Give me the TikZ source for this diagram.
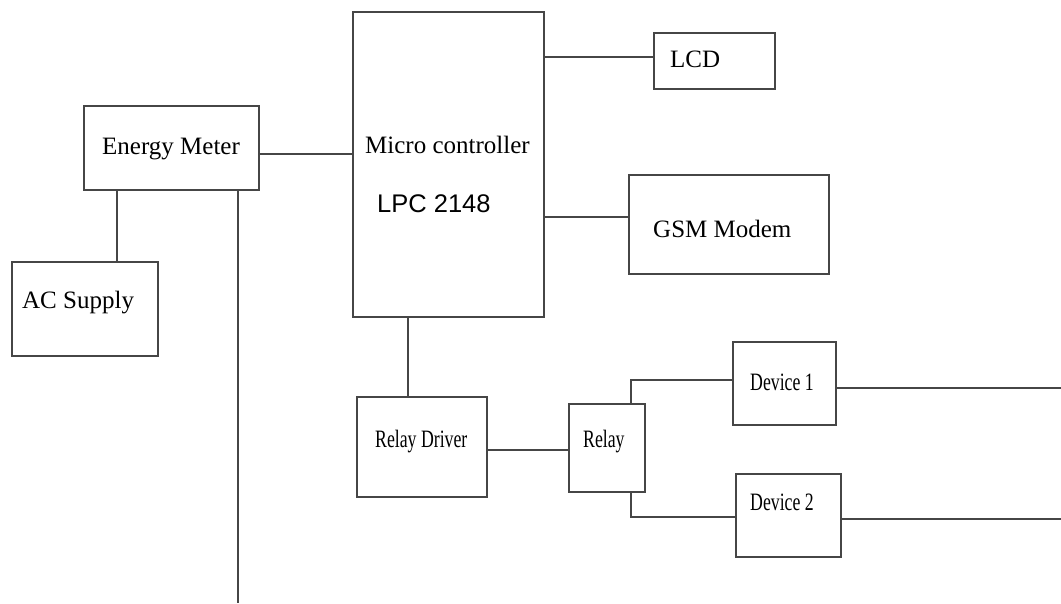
\documentclass[tikz,border=0pt]{standalone}
\usepackage{fontspec}
\usepackage{graphicx}
\setmainfont{Liberation Serif}
\newfontfamily\arialfont{Liberation Sans}
\definecolor{linegray}{RGB}{70,70,70}
\tikzset{
  blk/.style={draw=linegray, line width=1.6pt, rectangle, inner sep=0pt, fill=none},
  txt/.style={anchor=base west, inner sep=0pt, font=\fontsize{25}{30}\selectfont, text=black},
  wire/.style={draw=linegray, line width=1.6pt},
}
\newcommand{\cond}[1]{\scalebox{0.71}[1]{#1}}
\begin{document}
\begin{tikzpicture}[x=1pt,y=-1pt]
\useasboundingbox[fill=white] (0,0) rectangle (1061,603);
% boxes
\node[blk, minimum width=175pt, minimum height=84pt] (em) at (171.5,148) {};
\node[blk, minimum width=146pt, minimum height=94pt] (ac) at (85,309) {};
\node[blk, minimum width=191pt, minimum height=305pt] (mc) at (448.5,164.5) {};
\node[blk, minimum width=121pt, minimum height=56pt] (lcd) at (714.5,61) {};
\node[blk, minimum width=200pt, minimum height=99pt] (gsm) at (729,224.5) {};
\node[blk, minimum width=130pt, minimum height=100pt] (rd) at (422,447) {};
\node[blk, minimum width=76pt, minimum height=88pt] (relay) at (607,448) {};
\node[blk, minimum width=103pt, minimum height=83pt] (d1) at (784.5,383.5) {};
\node[blk, minimum width=105pt, minimum height=83pt] (d2) at (788.5,515.5) {};
% texts
\node[txt] (emt) at (102,154) {Energy Meter};
\node[txt] (act) at (22,308) {AC Supply};
\node[txt] (mct) at (365,153) {Micro controller};
\node[txt, font=\fontsize{25.5}{30}\arialfont] (lpct) at (377,212) {LPC 2148};
\node[txt] (lcdt) at (670,67) {LCD};
\node[txt] (gsmt) at (653,237) {GSM Modem};
\node[txt] (rdt) at (375,447) {\cond{Relay Driver}};
\node[txt] (relayt) at (583,447) {\cond{Relay}};
\node[txt] (d1t) at (750,390) {\cond{Device 1}};
\node[txt] (d2t) at (750,510) {\cond{Device 2}};
% free ends
\coordinate (bot) at (238,603);
\coordinate (d1end) at (1061,388);
\coordinate (d2end) at (1061,519);
% connectors
\draw[wire] ([yshift=-6pt]em.east) -- ([yshift=-6pt]em.east -| mc.west);
\draw[wire] ([xshift=-54.5pt]em.south) -- ([xshift=-54.5pt]em.south |- ac.north);
\draw[wire] (em.south -| bot) -- (bot);
\draw[wire] ([yshift=4pt]lcd.west) -- ([yshift=4pt]lcd.west -| mc.east);
\draw[wire] ([yshift=7.5pt]gsm.west) -- ([yshift=7.5pt]gsm.west -| mc.east);
\draw[wire] ([xshift=-14pt]rd.north) -- ([xshift=-14pt]rd.north |- mc.south);
\draw[wire] ([yshift=-3pt]rd.east) -- ([yshift=-3pt]rd.east -| relay.west);
\draw[wire] ([xshift=24pt]relay.north) |- ([yshift=3.5pt]d1.west);
\draw[wire] ([xshift=24pt]relay.south) |- ([yshift=-1.5pt]d2.west);
\draw[wire] ([yshift=-4.5pt]d1.east) -- (d1end);
\draw[wire] ([yshift=-3.5pt]d2.east) -- (d2end);
\end{tikzpicture}
\end{document}
